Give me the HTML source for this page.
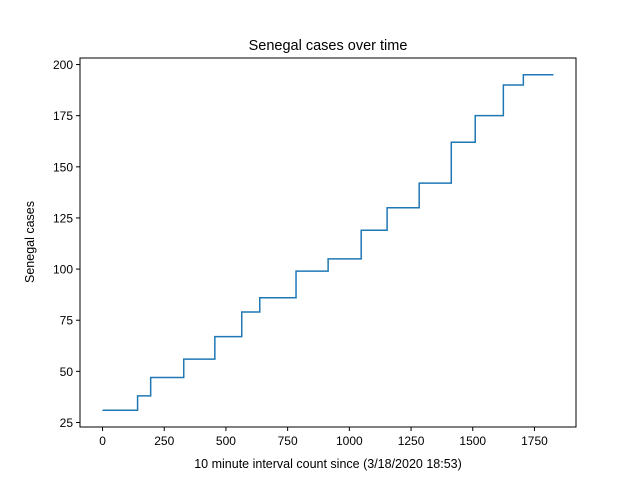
<!DOCTYPE html>
<html><head><meta charset="utf-8"><style>
body{margin:0;background:#fff;}
svg{display:block;font-family:"Liberation Sans","DejaVu Sans",sans-serif;}
</style></head><body>
<svg id="chart" width="640" height="480">
<rect width="640" height="480" fill="#fff"/>
<text x="328" y="50" font-size="14.5" text-anchor="middle">Senegal cases over time</text>
<g id="plot"></g>
<rect x="80" y="58" width="496" height="369" fill="none" stroke="#000" stroke-width="1"/>
<text x="328" y="468" font-size="12.5" text-anchor="middle">10 minute interval count since (3/18/2020 18:53)</text>
<text x="34" y="242" font-size="12.5" text-anchor="middle" transform="rotate(-90 34 242)">Senegal cases</text>
</svg>
<script>
const stepStarts=[0,142,195,329,455,564,637,784,914,1048,1153,1283,1413,1510,1624,1705];
const caseCounts=[31,38,47,56,67,79,86,99,105,119,130,142,162,175,190,195];
const lastX=1827;
const xTicks=[0,250,500,750,1000,1250,1500,1750];
const yTicks=[25,50,75,100,125,150,175,200];
const L=80,R=576,T=58,B=427;
const xmin=-91.35,xmax=1918.35,ymin=22.8,ymax=203.2;
const sx=v=>L+(v-xmin)/(xmax-xmin)*(R-L);
const sy=v=>B-(v-ymin)/(ymax-ymin)*(B-T);
const ns="http://www.w3.org/2000/svg";
const g=document.getElementById('plot');
function mk(t,a){const e=document.createElementNS(ns,t);for(const k in a)e.setAttribute(k,a[k]);g.appendChild(e);return e;}
xTicks.forEach(v=>{
 const l=mk('line',{x1:sx(v),x2:sx(v),y1:B,y2:B+4,stroke:'#000'});
 
 
 const t=mk('text',{x:sx(v),y:B+18,'font-size':12,'text-anchor':'middle'});t.textContent=v;
 
 
});
yTicks.forEach(v=>{
 const l=mk('line',{x1:L-4,x2:L,y1:sy(v),y2:sy(v),stroke:'#000'});
 
 
 const t=mk('text',{x:L-7,y:sy(v)+4.5,'font-size':12,'text-anchor':'end'});t.textContent=v;
 
 
});
let d='';
stepStarts.forEach((x,i)=>{
 const y=caseCounts[i];
 const xe=i<stepStarts.length-1?stepStarts[i+1]:lastX;
 d+=(i===0?'M':'L')+sx(x)+' '+sy(y)+' L'+sx(xe)+' '+sy(y)+' ';
});
const p=mk('path',{d:d,fill:'none',stroke:'#1f77b4','stroke-width':1.5});


</script>
</body></html>
